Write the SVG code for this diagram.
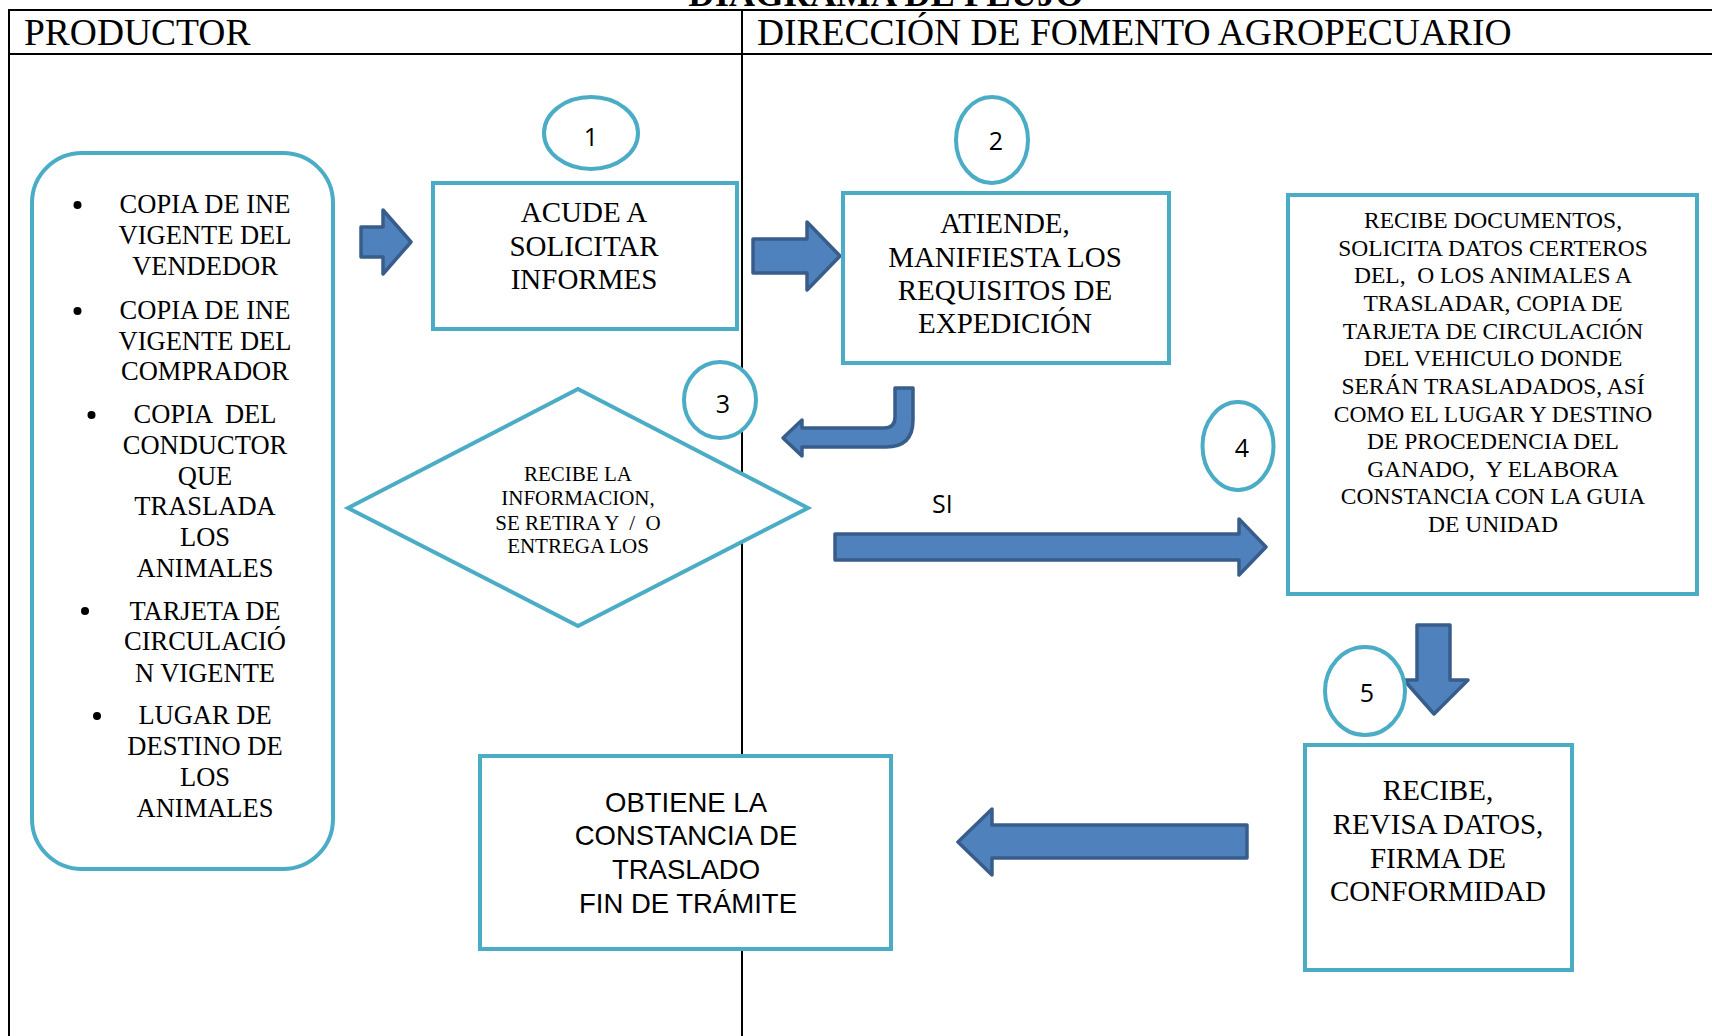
<svg xmlns="http://www.w3.org/2000/svg" width="1712" height="1036" viewBox="0 0 1712 1036" xml:space="preserve">
<defs>
<style>
.frame{stroke:#000;stroke-width:2;fill:none}
.box{fill:#fff;stroke:#4BACC6;stroke-width:4}
.circ{fill:#fff;stroke:#4BACC6;stroke-width:4}
.arrow{fill:#4F81BD;stroke:#385D8A;stroke-width:3.5;stroke-linejoin:round}
.serif{font-family:"Liberation Serif","Times New Roman",serif;fill:#000;white-space:pre}
.sans{font-family:"Liberation Sans",Arial,sans-serif;fill:#000;white-space:pre}
.num{font-family:"Open Sans","Noto Sans",sans-serif;fill:#000;font-size:25px}
.hdr{font-size:37.5px}
.t29{font-size:29px}
.t26{font-size:26.5px}
.t23{font-size:23.5px}
.t21{font-size:21px}
</style>
</defs>
<rect width="1712" height="1036" fill="#fff"/>
<g id="frame">
<text class="serif" x="886" y="5.5" text-anchor="middle" font-size="36.5" font-weight="bold">DIAGRAMA DE FLUJO</text>
<line class="frame" x1="9" y1="10" x2="1712" y2="10"/>
<line class="frame" x1="9" y1="54" x2="1712" y2="54"/>
<line class="frame" x1="9" y1="9" x2="9" y2="1036"/>
<line class="frame" x1="742" y1="10" x2="742" y2="1036"/>
<text class="serif hdr" x="24" y="45">PRODUCTOR</text>
<text class="serif hdr" x="757" y="45">DIRECCIÓN DE FOMENTO AGROPECUARIO</text>
</g>
<g id="connectors">
<path class="arrow" d="M361 227 L383 227 L383 210 L411 242 L383 274 L383 257 L361 257 Z"/>
<path class="arrow" d="M753 239 L807 239 L807 222 L840 256 L807 290 L807 273 L753 273 Z"/>
<path class="arrow" d="M895 388 L913 388 L913 420 Q913 447 886 447 L802 447 L802 456 L783 438 L802 420 L802 428 L884 428 Q895 428 895 417 Z"/>
<path class="arrow" d="M835 534 L1239 534 L1239 519 L1266 547 L1239 575 L1239 560 L835 560 Z"/>
<path class="arrow" d="M1417 625 L1450 625 L1450 680 L1468 680 L1434 714 L1404 680 L1417 680 Z"/>
<path class="arrow" d="M1247 825 L1247 858 L992 858 L992 875 L958 842 L992 809 L992 825 Z"/>
<text class="num" x="932" y="513">SI</text>
</g>
<g id="requisitos">
<rect class="box" x="32" y="153" width="301" height="716" rx="50" ry="50"/>
<g class="serif t26" text-anchor="middle">
<text x="205" y="213">COPIA DE INE</text>
<text x="205" y="244">VIGENTE DEL</text>
<text x="205" y="275">VENDEDOR</text>
<text x="205" y="319">COPIA DE INE</text>
<text x="205" y="350">VIGENTE DEL</text>
<text x="205" y="380">COMPRADOR</text>
<text x="205" y="423" xml:space="preserve">COPIA  DEL</text>
<text x="205" y="454">CONDUCTOR</text>
<text x="205" y="485">QUE</text>
<text x="205" y="515">TRASLADA</text>
<text x="205" y="546">LOS</text>
<text x="205" y="577">ANIMALES</text>
<text x="205" y="620">TARJETA DE</text>
<text x="205" y="650">CIRCULACIÓ</text>
<text x="205" y="682">N VIGENTE</text>
<text x="205" y="724">LUGAR DE</text>
<text x="205" y="755">DESTINO DE</text>
<text x="205" y="786">LOS</text>
<text x="205" y="817">ANIMALES</text>
</g>
<circle cx="77.5" cy="205" r="4"/>
<circle cx="77.5" cy="311" r="4"/>
<circle cx="91.5" cy="415" r="4"/>
<circle cx="85" cy="611" r="4"/>
<circle cx="97" cy="716" r="4"/>
</g>
<g id="paso1">
<ellipse class="circ" cx="591" cy="133" rx="47" ry="36"/>
<text class="num" x="591" y="146" text-anchor="middle">1</text>
<rect class="box" x="433" y="183" width="304" height="146"/>
<g class="serif t29" text-anchor="middle">
<text x="584" y="222">ACUDE A</text>
<text x="584" y="256">SOLICITAR</text>
<text x="584" y="289">INFORMES</text>
</g>
</g>
<g id="paso2">
<ellipse class="circ" cx="992" cy="140" rx="36" ry="43"/>
<text class="num" x="996" y="150" text-anchor="middle">2</text>
<rect class="box" x="843" y="193" width="326" height="170"/>
<g class="serif t29" text-anchor="middle">
<text x="1005" y="233">ATIENDE,</text>
<text x="1005" y="267">MANIFIESTA LOS</text>
<text x="1005" y="300">REQUISITOS DE</text>
<text x="1005" y="333">EXPEDICIÓN</text>
</g>
</g>
<g id="paso3">
<polygon class="box" points="348,508 578,389 808,508 578,626"/>
<ellipse class="circ" cx="720" cy="400" rx="36" ry="38"/>
<text class="num" x="723" y="413" text-anchor="middle">3</text>
<g class="serif t21" text-anchor="middle">
<text x="578" y="481">RECIBE LA</text>
<text x="578" y="505">INFORMACION,</text>
<text x="578" y="530" xml:space="preserve">SE RETIRA Y  /  O</text>
<text x="578" y="553">ENTREGA LOS</text>
</g>
</g>
<g id="paso4">
<ellipse class="circ" cx="1238" cy="446" rx="35.5" ry="44"/>
<text class="num" x="1242" y="457" text-anchor="middle">4</text>
<rect class="box" x="1288" y="195" width="409" height="399"/>
<g class="serif t23" text-anchor="middle">
<text x="1493" y="228">RECIBE DOCUMENTOS,</text>
<text x="1493" y="256">SOLICITA DATOS CERTEROS</text>
<text x="1493" y="283" xml:space="preserve">DEL,  O LOS ANIMALES A</text>
<text x="1493" y="311">TRASLADAR, COPIA DE</text>
<text x="1493" y="339">TARJETA DE CIRCULACIÓN</text>
<text x="1493" y="366">DEL VEHICULO DONDE</text>
<text x="1493" y="394">SERÁN TRASLADADOS, ASÍ</text>
<text x="1493" y="422">COMO EL LUGAR Y DESTINO</text>
<text x="1493" y="449">DE PROCEDENCIA DEL</text>
<text x="1493" y="477" xml:space="preserve">GANADO,  Y ELABORA</text>
<text x="1493" y="504">CONSTANCIA CON LA GUIA</text>
<text x="1493" y="532">DE UNIDAD</text>
</g>
</g>
<g id="paso5">
<ellipse class="circ" cx="1365" cy="691" rx="40" ry="44"/>
<text class="num" x="1367" y="702" text-anchor="middle">5</text>
<rect class="box" x="1305" y="745" width="267" height="225"/>
<g class="serif t29" text-anchor="middle">
<text x="1438" y="800">RECIBE,</text>
<text x="1438" y="834">REVISA DATOS,</text>
<text x="1438" y="868">FIRMA DE</text>
<text x="1438" y="901">CONFORMIDAD</text>
</g>
</g>
<g id="fin">
<rect class="box" x="480" y="756" width="411" height="193"/>
<g class="sans" font-size="27.5" text-anchor="middle">
<text x="686" y="812">OBTIENE LA</text>
<text x="686" y="845">CONSTANCIA DE</text>
<text x="686" y="879">TRASLADO</text>
<text x="688" y="913">FIN DE TRÁMITE</text>
</g>
</g>
</svg>
